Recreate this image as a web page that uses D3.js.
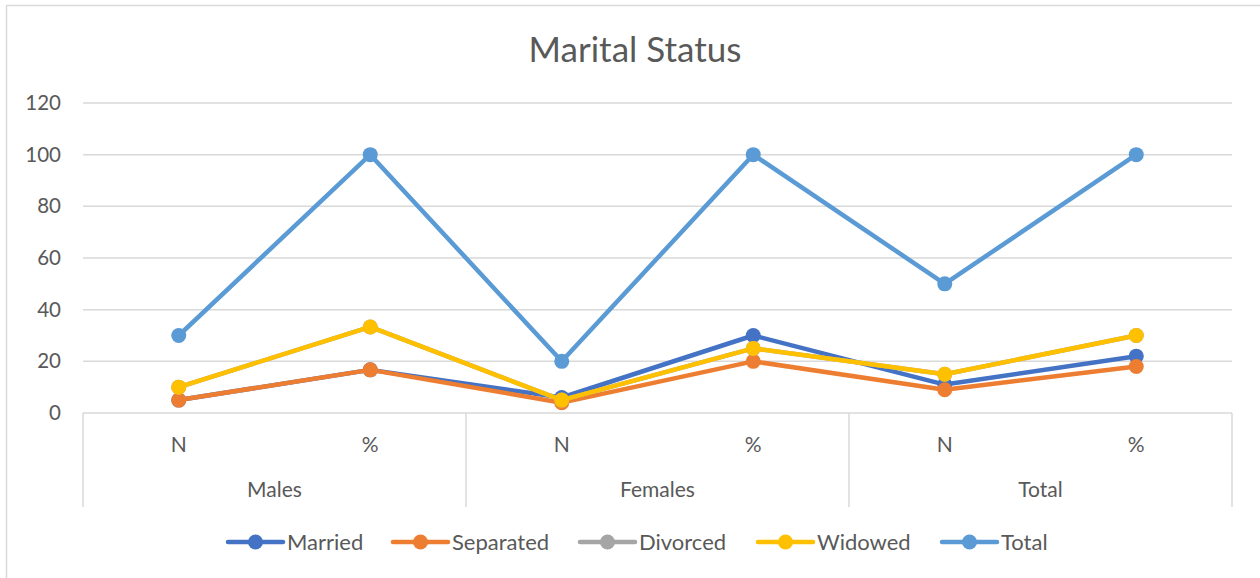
<!DOCTYPE html>
<html>
<head>
<meta charset="utf-8">
<script src="https://cdn.jsdelivr.net/npm/d3@7"></script>
<style>
  body { margin: 0; background: #fff; }
  svg { display: block; font-family: Lato, "Open Sans", sans-serif; }
</style>
</head>
<body>
<div id="chart"></div>
<script>
// Data
const groups     = ["Males", "Females", "Total"];
const subLabels  = ["N", "%"];
const seriesNames = ["Married", "Separated", "Divorced", "Widowed", "Total"];
const married    = [5, 16.7, 6, 30, 11, 22];
const separated  = [5, 16.7, 4, 20, 9, 18];
const divorced   = [10, 33.3, 5, 25, 15, 30];
const widowed    = [10, 33.3, 5, 25, 15, 30];
const total      = [30, 100, 20, 100, 50, 100];
const colors     = ["#4472C4", "#ED7D31", "#A5A5A5", "#FFC000", "#5B9BD5"];
const yTicks     = [0, 20, 40, 60, 80, 100, 120];

const W = 1260, H = 578;
const plot = { left: 83, right: 1232, top: 103, bottom: 413 };

const svg = d3.select("#chart").append("svg")
  .attr("width", W)
  .attr("height", H);

// Outer chart frame (right and bottom edges fall outside the view)
svg.append("rect")
  .attr("x", 6.5).attr("y", 5.5)
  .attr("width", W + 10).attr("height", H + 10)
  .attr("fill", "#fff")
  .attr("stroke", "#d9d9d9")
  .attr("stroke-width", 1.5);

svg.append("text")
  .attr("x", 635).attr("y", 50)
  .attr("dy", "0.35em")
  .attr("text-anchor", "middle")
  .attr("fill", "#595959")
  .style("font-size", "35px")
  .text("Marital Status");

// Categories
const cats = [];
groups.forEach(g => subLabels.forEach(s => cats.push({ group: g, sub: s, key: g + "|" + s })));

const x = d3.scaleBand()
  .domain(cats.map(d => d.key))
  .range([plot.left, plot.right]);

const y = d3.scaleLinear()
  .domain([0, 120])
  .range([plot.bottom, plot.top]);

// Gridlines
svg.append("g")
  .selectAll("line")
  .data(yTicks.filter(d => d > 0))
  .join("line")
    .attr("x1", plot.left).attr("x2", plot.right)
    .attr("y1", d => y(d)).attr("y2", d => y(d))
    .attr("stroke", "#d9d9d9")
    .attr("stroke-width", 1.5);

// Y axis labels
const yAxis = svg.append("g")
  .attr("transform", `translate(${plot.left - 22},0)`)
  .call(d3.axisLeft(y).tickValues(yTicks).tickSize(0).tickPadding(0));
yAxis.select(".domain").remove();
yAxis.selectAll("text")
  .attr("fill", "#595959")
  .style("font-size", "20.5px")
  .style("font-family", "Lato, sans-serif");

// X axis: baseline + group separators
svg.append("line")
  .attr("x1", plot.left).attr("x2", plot.right)
  .attr("y1", plot.bottom).attr("y2", plot.bottom)
  .attr("stroke", "#d9d9d9").attr("stroke-width", 1.5);

const groupBand = d3.scaleBand().domain(groups).range([plot.left, plot.right]);
const seps = groups.map(g => groupBand(g)).concat([plot.right]);
svg.append("g")
  .selectAll("line")
  .data(seps)
  .join("line")
    .attr("x1", d => d).attr("x2", d => d)
    .attr("y1", plot.bottom).attr("y2", 507)
    .attr("stroke", "#d9d9d9").attr("stroke-width", 1.5);

svg.append("g")
  .selectAll("text")
  .data(cats)
  .join("text")
    .attr("x", d => x(d.key) + x.bandwidth() / 2)
    .attr("y", 445)
    .attr("dy", "0.35em")
    .attr("text-anchor", "middle")
    .attr("fill", "#595959")
    .style("font-size", "21px")
    .text(d => d.sub);

svg.append("g")
  .selectAll("text")
  .data(groups)
  .join("text")
    .attr("x", d => groupBand(d) + groupBand.bandwidth() / 2)
    .attr("y", 490)
    .attr("dy", "0.35em")
    .attr("text-anchor", "middle")
    .attr("fill", "#595959")
    .style("font-size", "21px")
    .text(d => d);

// Series
const allSeries = [married, separated, divorced, widowed, total].map((vals, i) => ({
  name: seriesNames[i],
  color: colors[i],
  values: vals.map((v, j) => ({ key: cats[j].key, value: v }))
}));

const line = d3.line()
  .x(d => x(d.key) + x.bandwidth() / 2)
  .y(d => y(d.value));

allSeries.forEach(s => {
  const g = svg.append("g");
  g.append("path")
    .datum(s.values)
    .attr("fill", "none")
    .attr("stroke", s.color)
    .attr("stroke-width", 4.5)
    .attr("stroke-linejoin", "round")
    .attr("stroke-linecap", "round")
    .attr("d", line);
  g.selectAll("circle")
    .data(s.values)
    .join("circle")
      .attr("cx", d => x(d.key) + x.bandwidth() / 2)
      .attr("cy", d => y(d.value))
      .attr("r", 7.5)
      .attr("fill", s.color);
});

// Legend
const legendX = [228, 393, 580, 758, 942];
const legend = svg.append("g").attr("transform", "translate(0,542)");
allSeries.forEach((s, i) => {
  const lg = legend.append("g").attr("transform", `translate(${legendX[i]},0)`);
  lg.append("line")
    .attr("x1", 0).attr("x2", 55)
    .attr("stroke", s.color)
    .attr("stroke-width", 4.5)
    .attr("stroke-linecap", "round");
  lg.append("circle")
    .attr("cx", 27.5).attr("r", 7.5)
    .attr("fill", s.color);
  lg.append("text")
    .attr("x", 59)
    .attr("dy", "0.35em")
    .attr("fill", "#595959")
    .style("font-size", "22px")
    .text(s.name);
});
</script>
</body>
</html>
